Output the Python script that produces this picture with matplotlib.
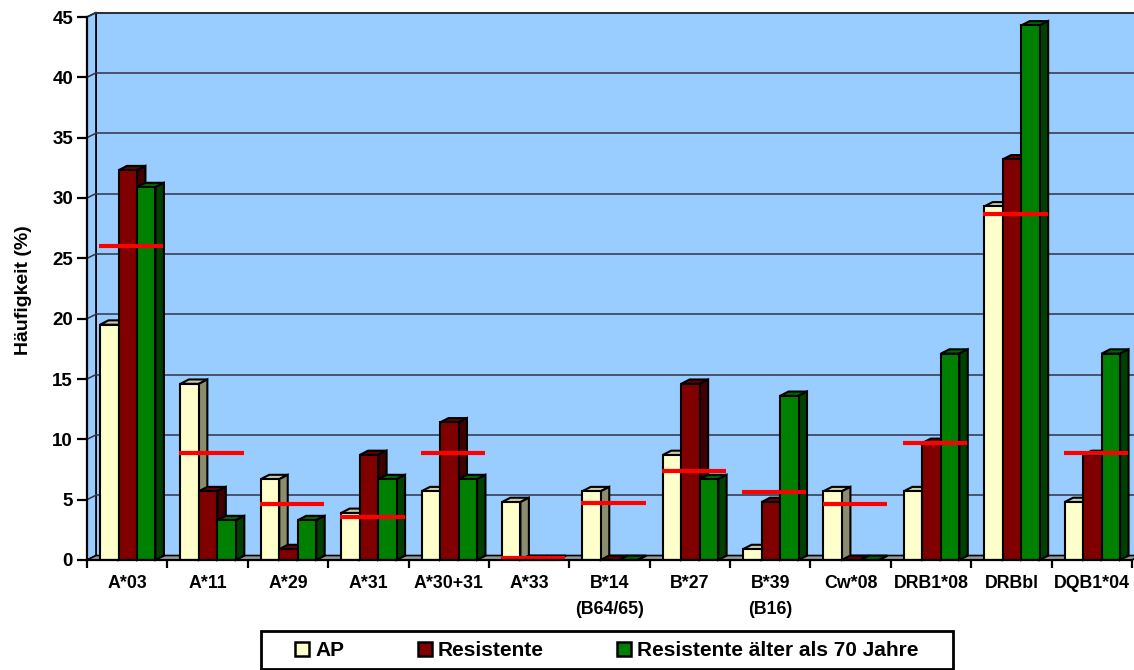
import matplotlib
matplotlib.use("Agg")
import matplotlib.pyplot as plt
from matplotlib.patches import Polygon, Patch, Rectangle
import numpy as np

plt.rcParams['font.family'] = ['Liberation Sans', 'DejaVu Sans']
plt.rcParams['font.weight'] = 'bold'

# HLA-Allele und Häufigkeiten (%)
categories = ['A*03', 'A*11', 'A*29', 'A*31', 'A*30+31', 'A*33', 'B*14\n(B64/65)',
              'B*27', 'B*39\n(B16)', 'Cw*08', 'DRB1*08', 'DRBbl', 'DQB1*04']
ap = [19.5, 14.6, 6.7, 3.9, 5.7, 4.8, 5.7, 8.7, 0.9, 5.7, 5.7, 29.3, 4.8]
resistente = [32.3, 5.7, 0.9, 8.7, 11.4, 0, 0, 14.6, 4.8, 0, 9.7, 33.2, 8.7]
resistente_70 = [30.9, 3.3, 3.3, 6.7, 6.7, 0, 0, 6.7, 13.6, 0, 17.1, 44.3, 17.1]
# Vergleichswerte (rote Linien)
referenz = [26.0, 8.9, 4.6, 3.6, 8.9, 0.2, 4.7, 7.4, 5.6, 4.6, 9.7, 28.7, 8.9]

series = [
    ('AP', ap, '#FFFFCC', '#CCCCA3', '#8C8C70'),
    ('Resistente', resistente, '#800000', '#660000', '#400000'),
    ('Resistente älter als 70 Jahre', resistente_70, '#008000', '#006600', '#004000'),
]

n = len(categories)
ymax = 45
wall_dx, wall_dy = 0.112, 0.37     # Tiefe der Rückwand
bar_dx, bar_dy = 0.105, 0.36       # Tiefe der Säulen
bar_w = 0.23
bar_start = 0.162

fig = plt.figure(figsize=(11.34, 6.70), dpi=100)
ax = fig.add_axes([87 / 1134, 110 / 670, 1045 / 1134, 543 / 670])
ax.set_xlim(0, n)
ax.set_ylim(0, ymax)
ax.set_facecolor('none')

# Wände und Boden
back = Polygon([(wall_dx, wall_dy), (n + wall_dx, wall_dy), (n + wall_dx, ymax + wall_dy),
                (wall_dx, ymax + wall_dy)], closed=True, facecolor='#99CCFF',
               edgecolor='black', lw=1.2, zorder=0, clip_on=False)
side = Polygon([(0, 0), (wall_dx, wall_dy), (wall_dx, ymax + wall_dy), (0, ymax)],
               closed=True, facecolor='#99CCFF', edgecolor='black', lw=1.2, zorder=0, clip_on=False)
floor = Polygon([(0, 0), (n, 0), (n + wall_dx, wall_dy), (wall_dx, wall_dy)], closed=True,
                facecolor='#999999', edgecolor='black', lw=1.2, zorder=1, clip_on=False)
ax.add_patch(back)
ax.add_patch(side)
ax.add_patch(floor)

for v in range(5, ymax + 1, 5):
    ax.plot([wall_dx, n + wall_dx], [v + wall_dy] * 2, color='#333344', lw=1.1, zorder=0.5, clip_on=False)
    ax.plot([0, wall_dx], [v, v + wall_dy], color='#333344', lw=1.1, zorder=0.5, clip_on=False)

x = np.arange(n)
for k, (label, vals, front, top, right) in enumerate(series):
    left = x + bar_start + k * bar_w
    ax.bar(left, vals, width=bar_w, align='edge', color=front, edgecolor='black',
           lw=1.5, zorder=3 + 2 * k)
    for xl, v in zip(left, vals):
        xr = xl + bar_w
        ax.add_patch(Polygon([(xl, v), (xr, v), (xr + bar_dx, v + bar_dy), (xl + bar_dx, v + bar_dy)],
                             closed=True, facecolor=top, edgecolor='black', lw=1.5,
                             zorder=2 + 2 * k, clip_on=False))
        ax.add_patch(Polygon([(xr, 0), (xr + bar_dx, bar_dy), (xr + bar_dx, v + bar_dy), (xr, v)],
                             closed=True, facecolor=right, edgecolor='black', lw=1.5,
                             zorder=2 + 2 * k, clip_on=False))

# rote Referenzlinien
for i, r in enumerate(referenz):
    ax.plot([i + 0.15, i + 0.95], [r, r], color='#FF0000', lw=3, zorder=20,
            solid_capstyle='butt', clip_on=False)

for s in ['top', 'right']:
    ax.spines[s].set_visible(False)
ax.spines['left'].set_linewidth(1.6)
ax.spines['bottom'].set_linewidth(1.6)
ax.spines['left'].set_zorder(30)
ax.spines['bottom'].set_zorder(30)

ax.set_yticks(range(0, ymax + 1, 5))
ax.tick_params(axis='y', direction='out', length=7, width=1.6, pad=3, labelsize=13.5)
ax.set_xticks(range(0, n + 1))
ax.set_xticklabels([])
ax.tick_params(axis='x', which='major', direction='out', length=6, width=1.6)
ax.set_xticks(x + 0.5, minor=True)
ax.set_xticklabels(categories, minor=True, fontsize=12.8, linespacing=1.7)
ax.tick_params(axis='x', which='minor', length=0, pad=11)

ax.set_ylabel('Häufigkeit (%)', fontsize=14, fontweight='bold')
ax.yaxis.set_label_coords(-(87 - 32) / 1045, (560 - 290) / 543)

# Legende mit eigenem Rahmen
fig.patches.append(Rectangle((261 / 1134, 1.5 / 670), (953 - 261) / 1134, 37.5 / 670,
                             transform=fig.transFigure, facecolor='white',
                             edgecolor='black', lw=2, zorder=0))
handles = [Patch(facecolor=s[2], edgecolor='black', lw=1.8) for s in series]
fig.legend(handles, [s[0] for s in series], loc='center',
           bbox_to_anchor=(607 / 1134, 19 / 670), ncol=3, fontsize=15, frameon=False,
           handlelength=0.68, handleheight=0.68, handletextpad=0.3, columnspacing=3.5,
           borderpad=0, borderaxespad=0)

fig.savefig('out.png', dpi=100)
